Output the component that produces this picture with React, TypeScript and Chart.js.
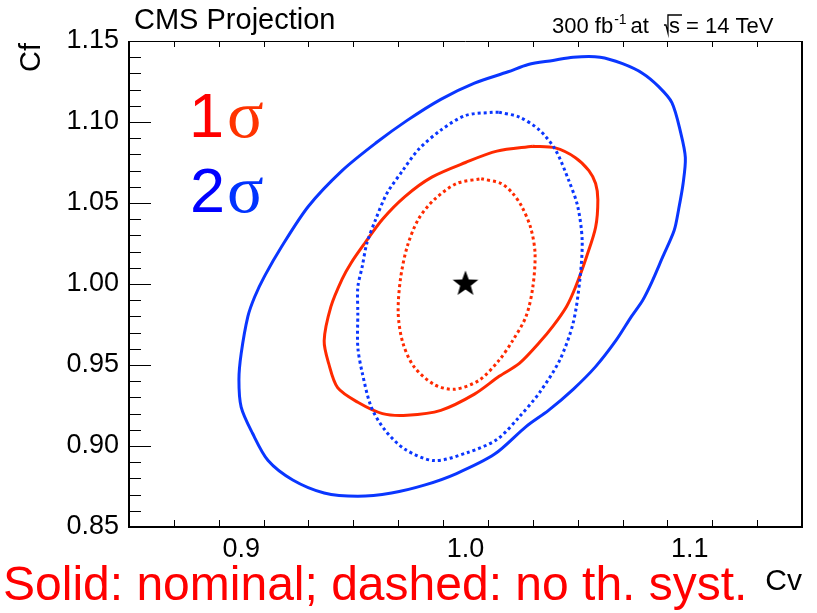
import { useEffect, useRef } from "react";
import { Chart, registerables } from "chart.js";

Chart.register(...registerables);

// ---------- data ----------
const xTickValues = [0.9, 1.0, 1.1];
const yTickValues = [0.85, 0.9, 0.95, 1.0, 1.05, 1.1, 1.15];

// 2 sigma, nominal (blue solid)
const cv2Nom = [1.039, 1.048, 1.06, 1.07, 1.079, 1.086, 1.092, 1.096, 1.098, 1.097, 1.095, 1.093, 1.088, 1.083, 1.079, 1.074, 1.067, 1.058, 1.048, 1.037, 1.027, 1.013, 0.996, 0.982, 0.967, 0.952, 0.937, 0.923, 0.912, 0.905, 0.9, 0.899, 0.9, 0.903, 0.906, 0.9105, 0.918, 0.93, 0.945, 0.96, 0.974, 0.989, 1.004, 1.019, 1.028];
const cf2Nom = [1.138, 1.14, 1.14, 1.136, 1.13, 1.122, 1.112, 1.093, 1.078, 1.062, 1.046, 1.033, 1.017, 1.001, 0.99, 0.98, 0.965, 0.949, 0.935, 0.922, 0.912, 0.895, 0.883, 0.876, 0.871, 0.869, 0.871, 0.879, 0.891, 0.908, 0.924, 0.941, 0.957, 0.98, 0.992, 1.005, 1.023, 1.048, 1.07, 1.087, 1.101, 1.114, 1.124, 1.131, 1.1355];

// 2 sigma, no theory systematics (blue dotted)
const cv2NoTh = [1.015, 1.024, 1.033, 1.04, 1.046, 1.05, 1.052, 1.051, 1.048, 1.042, 1.033, 1.024, 1.014, 1.001, 0.986, 0.973, 0.964, 0.958, 0.954, 0.952, 0.952, 0.952, 0.954, 0.956, 0.96, 0.965, 0.972, 0.979, 0.989, 1.0, 1.012];
const cf2NoTh = [1.106, 1.103, 1.095, 1.083, 1.064, 1.048, 1.027, 1.003, 0.976, 0.953, 0.933, 0.918, 0.904, 0.896, 0.891, 0.898, 0.91, 0.924, 0.945, 0.961, 0.982, 0.998, 1.011, 1.025, 1.04, 1.056, 1.07, 1.083, 1.095, 1.104, 1.106];

// 1 sigma, nominal (red solid)
const cv1Nom = [1.03, 1.04, 1.049, 1.055, 1.058, 1.059, 1.058, 1.054, 1.049, 1.045, 1.039, 1.033, 1.024, 1.015, 1.004, 0.989, 0.974, 0.963, 0.952, 0.943, 0.939, 0.937, 0.94, 0.945, 0.949, 0.955, 0.963, 0.973, 0.985, 1.0, 1.014];
const cf1Nom = [1.085, 1.084, 1.078, 1.07, 1.062, 1.052, 1.035, 1.017, 0.998, 0.986, 0.974, 0.964, 0.951, 0.943, 0.932, 0.922, 0.919, 0.92, 0.927, 0.936, 0.951, 0.965, 0.986, 1.003, 1.013, 1.025, 1.04, 1.054, 1.066, 1.075, 1.082];

// 1 sigma, no theory systematics (red dotted)
const cv1NoTh = [1.007, 1.016, 1.021, 1.025, 1.029, 1.031, 1.03, 1.027, 1.021, 1.015, 1.006, 0.995, 0.986, 0.977, 0.972, 0.97, 0.971, 0.974, 0.979, 0.986, 0.996];
const cf1NoTh = [1.065, 1.062, 1.056, 1.048, 1.035, 1.019, 0.998, 0.98, 0.965, 0.953, 0.9405, 0.935, 0.938, 0.949, 0.964, 0.982, 1.003, 1.023, 1.04, 1.052, 1.062];

// Standard Model point
const smCv = [1.0];
const smCf = [1.0];

// ---------- styling ----------
const SANS = '"Liberation Sans", Arial, Helvetica, sans-serif';
const SERIF = '"Liberation Serif", "Times New Roman", serif';
const RED_LINE = "#ff2a00";
const BLUE_LINE = "#0a36ff";

function closedLoop(cv: number[], cf: number[]) {
  const pts = cv.map((x, i) => ({ x, y: cf[i] }));
  pts.push({ ...pts[0] });
  return pts;
}

function makeStar(): HTMLCanvasElement {
  const c = document.createElement("canvas");
  c.width = 30;
  c.height = 30;
  const ctx = c.getContext("2d")!;
  ctx.fillStyle = "#000";
  ctx.beginPath();
  for (let i = 0; i < 10; i++) {
    const r = i % 2 === 0 ? 13.5 : 5.6;
    const a = -Math.PI / 2 + (i * Math.PI) / 5;
    const px = 15 + r * Math.cos(a);
    const py = 15 + r * Math.sin(a);
    if (i === 0) ctx.moveTo(px, py);
    else ctx.lineTo(px, py);
  }
  ctx.closePath();
  ctx.fill();
  return c;
}

const decorPlugin = {
  id: "rootDecor",
  afterDraw(chart: any) {
    const ctx: CanvasRenderingContext2D = chart.ctx;
    const { left, right, top, bottom } = chart.chartArea;
    const xs = chart.scales.x;
    const ys = chart.scales.y;
    ctx.save();

    // frame
    ctx.strokeStyle = "#000";
    ctx.lineWidth = 1;
    ctx.beginPath();
    ctx.moveTo(left, top + 0.5);
    ctx.lineTo(right, top + 0.5);
    ctx.stroke();
    ctx.lineWidth = 2;
    ctx.beginPath();
    ctx.moveTo(left, top);
    ctx.lineTo(left, bottom);
    ctx.lineTo(right, bottom);
    ctx.lineTo(right, top);
    ctx.stroke();

    // ticks
    ctx.lineWidth = 1;
    ctx.strokeStyle = "#000";
    ctx.beginPath();
    for (let i = 0; i <= 30; i++) {
      const v = 0.85 + i * 0.01;
      const y = Math.round(ys.getPixelForValue(v)) + 0.5;
      const len = i % 5 === 0 ? 22 : 12;
      ctx.moveTo(left, y);
      ctx.lineTo(left + len, y);
    }
    for (let i = 1; i < 15; i++) {
      const v = 0.85 + i * 0.02;
      const x = Math.round(xs.getPixelForValue(v)) + 0.5;
      const isMajor = Math.round(v * 1000) % 100 === 0;
      ctx.moveTo(x, bottom);
      ctx.lineTo(x, bottom - (isMajor ? 14 : 7));
      ctx.moveTo(x, top);
      ctx.lineTo(x, top + (isMajor ? 14 : 6));
    }
    ctx.stroke();

    // header texts
    ctx.fillStyle = "#000";
    ctx.textBaseline = "alphabetic";
    ctx.textAlign = "left";
    ctx.font = `29px ${SANS}`;
    ctx.fillText("CMS Projection", 134, 29);

    // lumi text
    let x = 552;
    const base = 33;
    ctx.font = `22px ${SANS}`;
    ctx.fillText("300 fb", x, base);
    x += ctx.measureText("300 fb").width + 1;
    ctx.font = `14px ${SANS}`;
    ctx.fillText("-1", x, base - 9);
    x += ctx.measureText("-1").width + 4;
    ctx.font = `22px ${SANS}`;
    ctx.fillText("at", x, base);
    x += ctx.measureText("at").width + 15;
    // radical
    ctx.lineWidth = 1.3;
    ctx.beginPath();
    ctx.moveTo(x, base - 8);
    ctx.lineTo(x + 2, base - 8);
    ctx.lineTo(x + 4, base);
    ctx.lineTo(x + 4, base - 18);
    ctx.lineTo(x + 18, base - 18);
    ctx.stroke();
    x += 5;
    ctx.fillText("s", x, base);
    x += ctx.measureText("s").width + 6;
    ctx.fillText("= 14 TeV", x, base);

    // axis titles
    ctx.font = `29px ${SANS}`;
    ctx.save();
    ctx.translate(40, 43);
    ctx.rotate(-Math.PI / 2);
    ctx.textAlign = "right";
    ctx.fillText("Cf", 0, 0);
    ctx.restore();
    ctx.font = `30px ${SANS}`;
    ctx.textAlign = "right";
    ctx.fillText("Cv", 802, 590);

    // sigma labels
    ctx.textAlign = "left";
    ctx.font = `63px ${SANS}`;
    ctx.fillStyle = "#ff0000";
    ctx.fillText("1", 189, 137);
    ctx.font = `68px ${SERIF}`;
    ctx.fillStyle = "#ff3300";
    ctx.fillText("σ", 227, 137);
    ctx.font = `63px ${SANS}`;
    ctx.fillStyle = "#0000ff";
    ctx.fillText("2", 190, 212);
    ctx.font = `68px ${SERIF}`;
    ctx.fillStyle = "#0033ff";
    ctx.fillText("σ", 227, 212);

    // footer
    ctx.font = `48px ${SANS}`;
    ctx.fillStyle = "#ff0000";
    ctx.fillText("Solid: nominal; dashed: no th. syst.", 3, 600);

    ctx.restore();
  },
};

export default function App() {
  const ref = useRef<HTMLCanvasElement | null>(null);

  useEffect(() => {
    if (!ref.current) return;
    const star = makeStar();
    const lineDs = (cv: number[], cf: number[], color: string, dotted: boolean) => ({
      data: closedLoop(cv, cf),
      showLine: true,
      borderColor: color,
      backgroundColor: color,
      borderWidth: 3,
      borderDash: dotted ? [3, 3] : [],
      borderCapStyle: "butt" as const,
      borderJoinStyle: "round" as const,
      pointRadius: 0,
      pointHoverRadius: 0,
      fill: false,
      tension: 0.3,
    });

    const chart = new Chart(ref.current, {
      type: "scatter",
      data: {
        datasets: [
          lineDs(cv2Nom, cf2Nom, BLUE_LINE, false),
          lineDs(cv2NoTh, cf2NoTh, BLUE_LINE, true),
          lineDs(cv1Nom, cf1Nom, RED_LINE, false),
          lineDs(cv1NoTh, cf1NoTh, RED_LINE, true),
          {
            data: smCv.map((x, i) => ({ x, y: smCf[i] })),
            pointStyle: star as any,
            pointRadius: 14,
            showLine: false,
          } as any,
        ],
      },
      options: {
        animation: false,
        responsive: false,
        maintainAspectRatio: false,
        events: [],
        layout: { padding: { left: 0, top: 41, right: 14, bottom: 0 } },
        plugins: {
          legend: { display: false },
          tooltip: { enabled: false },
          title: { display: false },
        },
        scales: {
          x: {
            type: "linear",
            min: 0.85,
            max: 1.15,
            afterBuildTicks: (s: any) => {
              s.ticks = xTickValues.map((v) => ({ value: v }));
            },
            afterFit: (s: any) => {
              s.height = 86;
            },
            ticks: {
              callback: (v: any) => Number(v).toFixed(1),
              font: { family: SANS, size: 27 },
              color: "#000",
              padding: 6,
              maxRotation: 0,
              autoSkip: false,
            },
            grid: { display: false, drawTicks: false },
            border: { display: false },
          },
          y: {
            type: "linear",
            min: 0.85,
            max: 1.15,
            afterBuildTicks: (s: any) => {
              s.ticks = yTickValues.map((v) => ({ value: v }));
            },
            afterFit: (s: any) => {
              s.width = 129;
            },
            ticks: {
              callback: (v: any) => Number(v).toFixed(2),
              font: { family: SANS, size: 27 },
              color: "#000",
              padding: 10,
              autoSkip: false,
            },
            grid: { display: false, drawTicks: false },
            border: { display: false },
          },
        },
      },
      plugins: [decorPlugin],
    });
    return () => chart.destroy();
  }, []);

  return (
    <div style={{ position: "fixed", left: 0, top: 0, width: 817, height: 613, background: "#fff" }}>
      <canvas ref={ref} width={817} height={613} style={{ width: 817, height: 613, display: "block" }} />
    </div>
  );
}
